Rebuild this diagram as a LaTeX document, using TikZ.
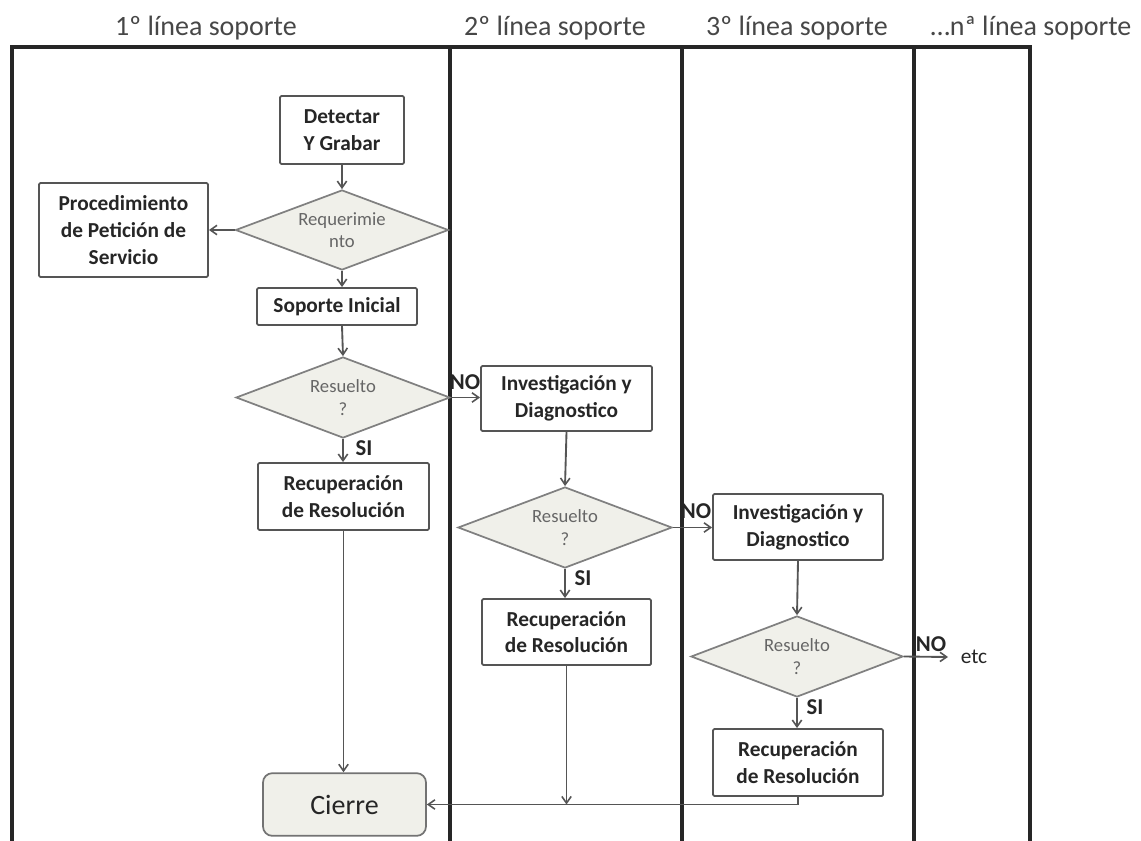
\documentclass[tikz,border=0pt]{standalone}
\usepackage{fontspec}
\setmainfont{Carlito}
\usetikzlibrary{shapes.geometric,arrows.meta}
\definecolor{linegray}{HTML}{555555}
\definecolor{lanegray}{HTML}{262626}
\definecolor{textdark}{HTML}{262626}
\definecolor{decfill}{HTML}{F0F0EA}
\begin{document}
\begin{tikzpicture}[x=0.75pt,y=-0.75pt,
  lane/.style={draw=lanegray, line width=2.6pt},
  header/.style={font=\fontsize{21}{24}\selectfont, text=black!72, inner sep=0pt},
  stepbox/.style={draw=linegray, line width=1.4pt, rounded corners=1pt, fill=white,
    align=center, font=\fontsize{16}{20}\selectfont\bfseries, text=textdark, inner sep=0pt},
  decision/.style={diamond, draw=black!50, line width=1.3pt, fill=decfill, aspect=2.6,
    inner sep=0pt, align=center, font=\fontsize{14}{17}\selectfont, text=black!60},
  endbox/.style={draw=black!55, line width=1.3pt, rounded corners=7pt, fill=decfill,
    font=\fontsize{21}{24}\selectfont, text=textdark, inner sep=0pt},
  flow/.style={draw=linegray, line width=1.4pt},
  arr/.style={flow, -{Straight Barb[length=5pt,width=7pt,line width=1.2pt]}},
  answer/.style={font=\fontsize{17}{19}\selectfont\bfseries, text=textdark, inner sep=0pt},
]
\useasboundingbox (0,0) rectangle (1141,841);

% swimlane frame
\draw[lane] (12,841) -- (12,47) -- (1030,47) -- (1030,841);
\draw[lane] (450,47) -- (450,841);
\draw[lane] (682,47) -- (682,841);
\draw[lane] (914,47) -- (914,841);

% lane titles
\node[header] (h1) at (206,28) {1º línea soporte};
\node[header] (h2) at (555,28) {2º línea soporte};
\node[header] (h3) at (797,28) {3º línea soporte};
\node[header] (h4) at (1031,28) {…nª línea soporte};

% first line
\node[stepbox, minimum width=93pt, minimum height=51pt] (detect) at (342,130) {Detectar\\Y Grabar};
\node[decision, minimum width=159.75pt, minimum height=60pt] (req) at (342,230) {Requerimie\\nto};
\node[stepbox, minimum width=126.75pt, minimum height=70.5pt] (proc) at (123.5,230) {Procedimiento\\de Petición de\\Servicio};
\node[stepbox, minimum width=120pt, minimum height=27.75pt] (init) at (337,306.5) {Soporte Inicial};
\node[decision, minimum width=160.5pt, minimum height=60.75pt] (res1) at (343,397.5) {Resuelto\\?};
\node[stepbox, minimum width=128.25pt, minimum height=50.25pt] (rec1) at (343.5,496.5) {Recuperación\\de Resolución};
\node[endbox, minimum width=122.25pt, minimum height=47pt] (close) at (344.5,804.5) {Cierre};

% second line
\node[stepbox, minimum width=128.25pt, minimum height=48.75pt] (inv2) at (566.5,398.5) {Investigación y\\Diagnostico};
\node[decision, minimum width=160.5pt, minimum height=60.75pt] (res2) at (565,527.5) {Resuelto\\?};
\node[stepbox, minimum width=126.75pt, minimum height=49.5pt] (rec2) at (566.5,632) {Recuperación\\de Resolución};

% third line
\node[stepbox, minimum width=127.5pt, minimum height=49.5pt] (inv3) at (798,527) {Investigación y\\Diagnostico};
\node[decision, minimum width=159pt, minimum height=60.75pt] (res3) at (797,656.5) {Resuelto\\?};
\node[stepbox, minimum width=127.5pt, minimum height=50.25pt] (rec3) at (798,762.5) {Recuperación\\de Resolución};
\node[font=\fontsize{16}{18}\selectfont, text=textdark, inner sep=0pt] (etc) at (974,657) {etc};
\coordinate (etcin) at (948,657);

% flow
\draw[arr] (detect.south) -- (req.north);
\draw[arr] (req.west) -- (proc.east);
\draw[arr] (req.south) -- (req.south |- init.north);
\draw[arr] (req.south |- init.south) -- (res1.north);
\draw[arr] (res1.south) -- (res1.south |- rec1.north);
\draw[arr] (res1.east) -- (res1.east -| inv2.west);
\draw[arr] (inv2.south) -- (res2.north);
\draw[arr] (res2.south) -- (res2.south |- rec2.north);
\draw[arr] (res2.east) -- (res2.east -| inv3.west);
\draw[arr] (inv3.south) -- (res3.north);
\draw[arr] (res3.south) -- (res3.south |- rec3.north);
\draw[arr] (res3.east) -- (etcin);
\draw[arr] (rec1.south) -- (rec1.south |- close.north);
\coordinate (join2) at (rec2.south |- close.east);
\draw[arr] (rec2.south) -- (join2);
\draw[arr] (rec3.south) |- (close.east);

% answers
\node[answer] (no1) at (465,382) {NO};
\node[answer] (si1) at (364,448) {SI};
\node[answer] (no2) at (696,511) {NO};
\node[answer] (si2) at (583,578) {SI};
\node[answer] (no3) at (931,644) {NO};
\node[answer] (si3) at (815,707) {SI};
\end{tikzpicture}
\end{document}
